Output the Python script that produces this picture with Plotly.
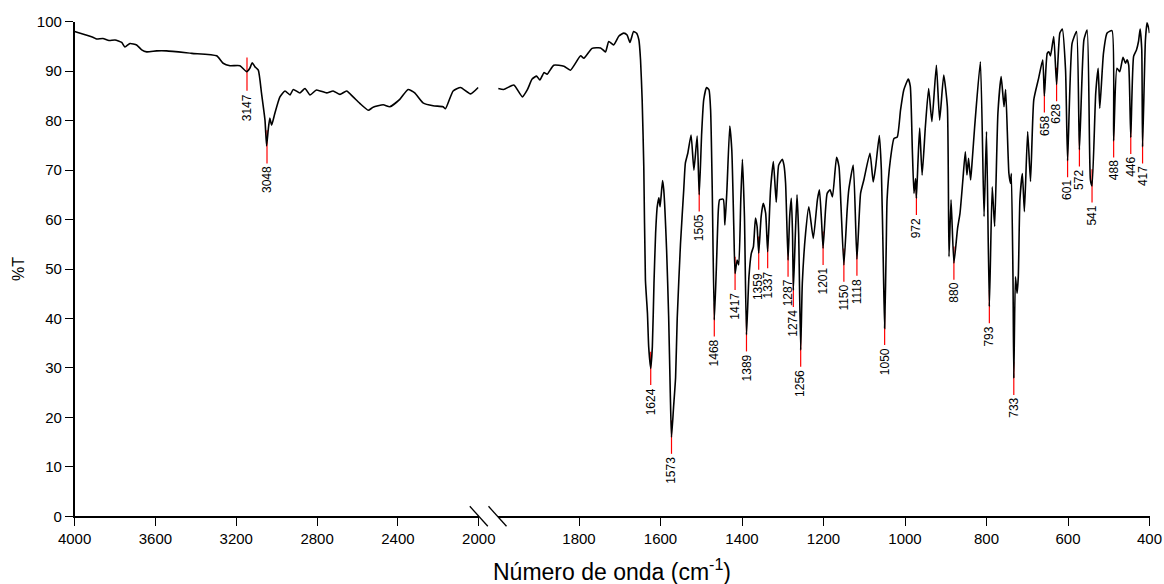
import plotly.graph_objects as go

W, H = 1164, 584

# ---------------- data ----------------
left_wn = [4000, 3960, 3907, 3891, 3860, 3830, 3800, 3767, 3751, 3726, 3693, 3668, 3643, 3594, 3545,
           3420, 3297, 3265, 3231, 3182, 3149, 3133, 3121, 3108, 3091, 3075, 3058, 3050, 3042, 3034,
           3025, 3009, 2984, 2959, 2934, 2918, 2885, 2860, 2835, 2803, 2753, 2721, 2687, 2654, 2622,
           2589, 2547, 2523, 2473, 2440, 2391, 2350, 2317, 2276, 2226, 2177, 2165, 2127, 2090, 2041, 2003]
left_t = [98.0, 97.5, 96.8, 96.5, 96.6, 96.2, 96.3, 95.8, 94.9, 95.6, 95.3, 94.3, 93.9, 94.1, 94.1,
          93.6, 93.1, 91.6, 91.1, 91.1, 89.9, 90.6, 91.7, 90.9, 90.2, 85.5, 80.1, 74.9, 78.1, 80.5,
          79.1, 81.5, 84.8, 86.0, 85.2, 86.3, 85.6, 86.5, 85.2, 86.2, 85.6, 86.0, 85.3, 86.0, 84.8,
          83.5, 82.1, 82.7, 83.2, 82.8, 84.3, 86.3, 85.6, 83.6, 83.0, 82.8, 82.4, 86.0, 86.7, 85.4, 86.7]

right_wn = [1998, 1985, 1960, 1939, 1927, 1915, 1904, 1896, 1886, 1878, 1862, 1837, 1821, 1796, 1788,
            1768, 1747, 1735, 1727, 1715, 1702, 1690, 1682, 1675, 1666, 1659, 1653, 1649, 1645, 1641,
            1637, 1632, 1629, 1624, 1620, 1616, 1612, 1608, 1604, 1601, 1595, 1592, 1585, 1580, 1576,
            1573, 1568, 1563, 1559, 1551, 1543, 1539, 1533, 1525, 1518, 1510, 1505, 1499, 1494, 1487,
            1481, 1477, 1473, 1468, 1463, 1458, 1455, 1446, 1442, 1437, 1430, 1425, 1420, 1417, 1412,
            1408, 1403, 1399, 1394, 1389, 1383, 1377, 1372, 1367, 1363, 1359, 1353, 1348, 1342, 1337,
            1330, 1323, 1316, 1310, 1301, 1297, 1293, 1287, 1283, 1279, 1276, 1274, 1269, 1265, 1261,
            1256, 1252, 1244, 1236, 1225, 1215, 1210, 1205, 1201, 1195, 1191, 1184, 1178, 1168, 1162,
            1157, 1150, 1142, 1138, 1127, 1118, 1109, 1101, 1086, 1078, 1072, 1063, 1058, 1053, 1050,
            1046, 1044, 1036, 1027, 1019, 1011, 1003, 992, 987, 982, 978, 974, 972, 968, 964,
            958, 950, 942, 934, 923, 915, 905, 896, 892, 887, 880, 871, 865, 858, 852,
            848, 844, 839, 835, 829, 815, 806, 800, 793, 786, 780, 772, 764, 757, 753,
            745, 741, 739, 735, 733, 729, 725, 722, 718, 712, 707, 699, 692, 684, 672,
            662, 658, 651, 647, 643, 635, 628, 620, 614, 606, 601, 590, 579, 572, 561,
            553, 545, 541, 532, 526, 522, 513, 504, 492, 488, 480, 473, 465, 459, 455,
            451, 446, 439, 432, 427, 423, 419, 417, 410, 406, 402, 400]
right_t = [86.5, 86.3, 87.2, 84.8, 86.2, 88.4, 89.0, 88.2, 89.7, 89.4, 91.2, 91.0, 90.2, 93.1, 92.6,
           94.6, 94.7, 93.9, 96.0, 95.3, 97.1, 97.7, 97.3, 95.8, 98.0, 97.7, 96.3, 92.3, 84.2, 70.7,
           47.8, 41.0, 34.3, 29.9, 34.3, 47.1, 57.2, 62.6, 64.4, 62.6, 67.9, 66.0, 53.8, 40.4, 25.0,
           16.0, 22.0, 28.0, 40.0, 55.0, 66.0, 71.4, 73.4, 77.1, 70.0, 76.9, 65.0, 77.4, 84.2, 86.7,
           86.2, 82.1, 66.0, 39.7, 50.0, 62.0, 64.0, 64.1, 58.9, 66.0, 78.9, 74.0, 58.0, 49.1, 51.8,
           50.8, 64.0, 72.2, 60.6, 36.7, 48.4, 53.2, 54.5, 60.3, 58.6, 53.2, 60.6, 63.3, 61.3, 53.5,
           66.0, 71.7, 63.5, 71.0, 72.2, 71.0, 67.3, 51.8, 60.6, 64.3, 57.2, 45.7, 57.2, 65.0, 57.2,
           33.6, 47.1, 57.2, 62.6, 56.2, 64.0, 66.0, 60.0, 54.2, 62.0, 65.3, 66.0, 64.6, 72.6, 70.7,
           62.6, 50.8, 61.9, 66.0, 71.0, 52.0, 65.3, 68.0, 73.4, 67.6, 70.7, 77.0, 70.0, 50.0, 38.0,
           55.0, 64.0, 72.0, 76.4, 76.7, 82.1, 86.2, 88.4, 86.9, 74.1, 65.3, 68.3, 64.3, 72.0, 78.5,
           69.0, 78.8, 86.5, 79.8, 91.2, 80.1, 89.2, 82.8, 52.5, 64.0, 51.2, 58.2, 61.3, 68.0, 73.7,
           69.0, 72.4, 68.0, 72.0, 78.8, 91.9, 60.6, 77.8, 42.4, 66.6, 58.6, 81.5, 88.9, 82.8, 86.3,
           69.3, 67.3, 69.3, 48.4, 27.9, 48.4, 45.1, 48.4, 64.0, 69.3, 61.6, 77.8, 67.7, 84.2, 88.6,
           92.3, 85.0, 93.6, 93.9, 93.1, 97.0, 87.3, 97.7, 98.5, 90.2, 71.9, 95.6, 98.0, 74.1, 96.3,
           98.3, 68.0, 66.8, 85.5, 90.6, 82.5, 93.6, 97.7, 98.2, 75.9, 90.6, 89.9, 92.8, 91.6, 92.3,
           91.2, 76.6, 93.0, 94.3, 96.0, 98.5, 94.3, 74.7, 96.3, 99.8, 98.7, 97.7]

peaks_left = ["3147", "3048"]
peaks_left_t = [89.4, 74.7]
peaks_right = ["1624", "1573", "1505", "1468", "1417", "1389", "1359", "1337", "1287", "1274",
               "1256", "1201", "1150", "1118", "1050", "972", "880", "793", "733", "658",
               "628", "601", "572", "541", "488", "446", "417"]
peaks_right_t = [29.9, 16.0, 65.0, 39.7, 49.1, 36.7, 53.2, 53.5, 51.8, 45.7,
                 33.6, 54.2, 50.8, 52.0, 38.0, 64.3, 51.2, 42.4, 27.9, 85.0,
                 87.3, 71.9, 74.1, 66.8, 75.9, 76.6, 74.7]

y_ticks = list(range(0, 101, 10))
x1_ticks = [4000, 3600, 3200, 2800, 2400, 2000]
x2_ticks = [1800, 1600, 1400, 1200, 1000, 800, 600, 400]

# ---------------- layout geometry (pixels) ----------------
PL, BRK1, BRK2, PR = 74.6, 478.8, 497.5, 1149.5
YT, YB = 21.7, 516.3
HALF = 3.37  # half length of the red peak markers, in %T units

FONT = "Liberation Sans, Arial, sans-serif"
line_style = dict(color="black", width=1.6, shape="spline", smoothing=0.5)

fig = go.Figure()
fig.add_trace(go.Scatter(x=left_wn, y=left_t, xaxis="x", yaxis="y", mode="lines",
                         line=line_style, showlegend=False, hoverinfo="skip"))
fig.add_trace(go.Scatter(x=right_wn, y=right_t, xaxis="x2", yaxis="y", mode="lines",
                         line=line_style, showlegend=False, hoverinfo="skip"))

shapes = []
annotations = []
for labels, vals, xr in ((peaks_left, peaks_left_t, "x"), (peaks_right, peaks_right_t, "x2")):
    for lab, v in zip(labels, vals):
        wn = float(lab)
        shapes.append(dict(type="line", xref=xr, yref="y", x0=wn, x1=wn, y0=v + HALF, y1=v - HALF,
                           line=dict(color="#ff0000", width=1.2), layer="below"))
        annotations.append(dict(text=lab, xref=xr, yref="y", x=wn, y=v - HALF, showarrow=False,
                                textangle=-90, xanchor="center", yanchor="top", yshift=-1,
                                font=dict(family=FONT, size=12, color="black")))

# axis break marks
for bx in (BRK1, BRK2):
    shapes.append(dict(type="line", xref="paper", yref="paper",
                       x0=(bx - 9) / W, x1=(bx + 9) / W,
                       y0=1 - (YB - 10) / H, y1=1 - (YB + 10) / H,
                       line=dict(color="black", width=1.3)))

# axis titles
annotations.append(dict(text="Número de onda (cm<sup>-1</sup>)", xref="paper", yref="paper",
                        x=((PL + PR) / 2) / W, y=1 - 570 / H, xanchor="center", yanchor="middle",
                        showarrow=False, font=dict(family=FONT, size=23, color="black")))
annotations.append(dict(text="%T", xref="paper", yref="paper", x=18 / W, y=1 - ((YT + YB) / 2) / H,
                        xanchor="center", yanchor="middle", textangle=-90, showarrow=False,
                        font=dict(family=FONT, size=16, color="black")))

axis_common = dict(showgrid=False, zeroline=False, showline=True, linecolor="black", linewidth=1.5,
                   ticks="outside", ticklen=8, tickwidth=1.3, tickcolor="black", automargin=False,
                   tickfont=dict(family=FONT, size=15, color="black"))

fig.update_layout(
    width=W, height=H,
    margin=dict(l=0, r=0, t=0, b=0, autoexpand=False),
    paper_bgcolor="white", plot_bgcolor="white",
    xaxis=dict(domain=[PL / W, BRK1 / W], range=[4000, 2000], tickmode="array",
               tickvals=x1_ticks, ticktext=[str(t) for t in x1_ticks], anchor="y", **axis_common),
    xaxis2=dict(domain=[BRK2 / W, PR / W], range=[2000, 400], tickmode="array",
                tickvals=x2_ticks, ticktext=[str(t) for t in x2_ticks], anchor="y", **axis_common),
    yaxis=dict(domain=[1 - YB / H, 1 - YT / H], range=[0, 100], tickmode="array",
               tickvals=y_ticks, ticktext=[str(t) for t in y_ticks], anchor="x", **axis_common),
    shapes=shapes,
    annotations=annotations,
)

fig.write_html("out.html")
